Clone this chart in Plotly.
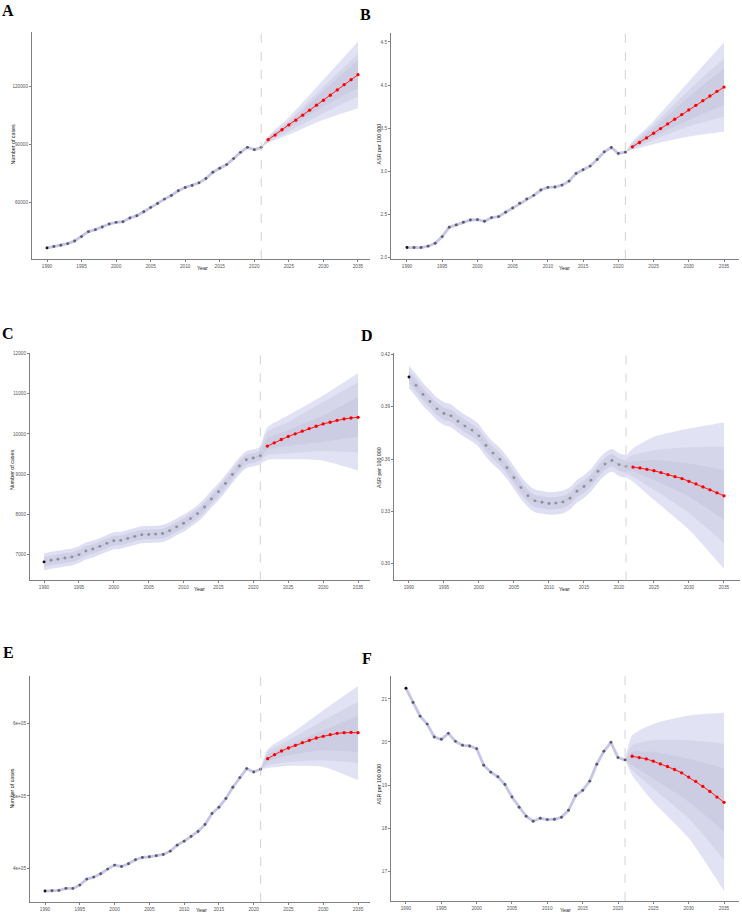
import plotly.graph_objects as go

W, H = 742, 916

years_hist = list(range(1990, 2022))
years_fc = list(range(2022, 2036))
band_years = [2021, 2022, 2025, 2030, 2035]
tick_years = [1990, 1995, 2000, 2005, 2010, 2015, 2020, 2025, 2030, 2035]

# ---------------- Panel A: number of cases ----------------
a_hist = [36650, 37340, 38030, 38880, 40250, 42480, 45050, 46080, 47450, 49000,
          49860, 50200, 52090, 53290, 55340, 57570, 59630, 61860, 63750, 66150,
          67860, 68890, 70270, 72500, 75760, 77810, 79700, 82790, 86040, 88620,
          87420, 88620]
a_fc = [92560, 94960, 97700, 100280, 102680, 105250, 107820, 110400, 112970,
        115540, 118290, 121030, 123600, 126170]
a_outer_hi = [88620, 94270, 104220, 123600, 143150]
a_outer_lo = [88620, 90850, 95130, 102850, 108850]
a_mid_hi = [88620, 93760, 102340, 120000, 136800]
a_mid_lo = [88620, 91360, 96850, 106280, 114860]
a_inner_hi = [88620, 93420, 101140, 117770, 133720]
a_inner_lo = [88620, 91700, 98570, 109710, 119140]
a_ticks = [60000, 90000, 120000]

# ---------------- Panel B: ASR ----------------
b_hist = [2.119, 2.119, 2.119, 2.135, 2.169, 2.246, 2.354, 2.381, 2.412, 2.438,
          2.442, 2.423, 2.465, 2.477, 2.527, 2.577, 2.631, 2.681, 2.723, 2.785,
          2.815, 2.819, 2.842, 2.888, 2.977, 3.019, 3.062, 3.138, 3.227, 3.277,
          3.208, 3.223]
b_fc = [3.285, 3.335, 3.388, 3.442, 3.496, 3.550, 3.604, 3.658, 3.712, 3.765,
        3.819, 3.873, 3.927, 3.977]
b_outer_hi = [3.223, 3.346, 3.585, 4.040, 4.492]
b_outer_lo = [3.223, 3.250, 3.315, 3.404, 3.462]
b_mid_hi = [3.223, 3.327, 3.538, 3.942, 4.308]
b_mid_lo = [3.223, 3.262, 3.365, 3.519, 3.635]
b_inner_hi = [3.223, 3.308, 3.500, 3.865, 4.192]
b_inner_lo = [3.223, 3.269, 3.404, 3.596, 3.769]
b_ticks = [2.0, 2.5, 3.0, 3.5, 4.0, 4.5]

# ---------------- Panel C: number of cases ----------------
c_hist = [6819, 6860, 6885, 6918, 6942, 7000, 7090, 7140, 7206, 7280,
          7345, 7354, 7403, 7452, 7493, 7502, 7510, 7526, 7592, 7691,
          7781, 7896, 8020, 8184, 8382, 8563, 8768, 8990, 9204, 9360,
          9401, 9459]
c_fc = [9697, 9780, 9862, 9936, 10002, 10068, 10133, 10191, 10248, 10290,
        10339, 10372, 10396, 10413]
c_hist_outer_halfwidth = 210
c_hist_inner_halfwidth = 120
c_outer_hi = [9670, 10158, 10462, 10956, 11507]
c_outer_lo = [9250, 9352, 9368, 9336, 9089]
c_mid_hi = [9610, 10051, 10298, 10791, 11285]
c_mid_lo = [9310, 9475, 9516, 9574, 9541]
c_inner_hi = [9560, 9887, 10092, 10462, 10915]
c_inner_lo = [9360, 9599, 9697, 9804, 9928]
c_ticks = [7000, 8000, 9000, 10000, 11000, 12000]

# ---------------- Panel D: ASR ----------------
d_hist = [0.4071, 0.4023, 0.3971, 0.3930, 0.3888, 0.3861, 0.3848, 0.3817, 0.3789, 0.3766,
          0.3733, 0.3678, 0.3634, 0.3598, 0.3550, 0.3493, 0.3436, 0.3389, 0.3360, 0.3352,
          0.3345, 0.3347, 0.3354, 0.3375, 0.3415, 0.3442, 0.3478, 0.3530, 0.3571, 0.3592,
          0.3568, 0.3558]
d_fc = [0.3554, 0.3549, 0.3541, 0.3533, 0.3522, 0.3510, 0.3499, 0.3488, 0.3472, 0.3457,
        0.3440, 0.3423, 0.3406, 0.3389]
d_hist_outer_halfwidth = 0.0065
d_hist_inner_halfwidth = 0.0035
d_outer_hi = [0.3620, 0.3661, 0.3728, 0.3775, 0.3810]
d_outer_lo = [0.3496, 0.3470, 0.3366, 0.3194, 0.2970]
d_mid_hi = [0.3600, 0.3623, 0.3651, 0.3667, 0.3670]
d_mid_lo = [0.3516, 0.3499, 0.3423, 0.3290, 0.3118]
d_inner_hi = [0.3580, 0.3585, 0.3594, 0.3575, 0.3537]
d_inner_lo = [0.3536, 0.3528, 0.3480, 0.3385, 0.3251]
d_ticks = [0.30, 0.33, 0.36, 0.39, 0.42]

# ---------------- Panel E: number of cases ----------------
e_hist = [368200, 368670, 369130, 371890, 371890, 376500, 384790, 387560, 392170, 398620,
          404150, 402300, 405990, 411520, 414750, 415670, 417050, 418890, 423500, 431800,
          437330, 443780, 450690, 460360, 475570, 484330, 496310, 511970, 525340, 537780,
          533170, 536860]
e_fc = [551600, 557130, 562200, 566350, 570040, 573720, 576950, 580170, 582480, 584780,
        586620, 587550, 588010, 587550]
e_outer_hi = [536860, 564500, 583850, 618400, 652060]
e_outer_lo = [536860, 538700, 541500, 540100, 521650]
e_mid_hi = [536860, 560800, 576950, 604600, 629940]
e_mid_lo = [536860, 542400, 547000, 549300, 545610]
e_inner_hi = [536860, 556200, 570040, 590800, 611500]
e_inner_lo = [536860, 547000, 556200, 563100, 560800]
e_ticks = [400000, 500000, 600000]
e_ticktext = ["4e+05", "5e+05", "6e+05"]

# ---------------- Panel F: ASR ----------------
f_hist = [21.246, 20.915, 20.600, 20.415, 20.115, 20.062, 20.200, 20.015, 19.923, 19.908,
          19.846, 19.462, 19.300, 19.192, 19.015, 18.723, 18.485, 18.277, 18.162, 18.231,
          18.200, 18.208, 18.254, 18.415, 18.754, 18.877, 19.092, 19.485, 19.785, 19.992,
          19.638, 19.585]
f_fc = [19.669, 19.638, 19.608, 19.554, 19.492, 19.431, 19.362, 19.285, 19.185, 19.085,
        18.969, 18.854, 18.723, 18.600]
f_outer_hi = [19.585, 20.154, 20.420, 20.615, 20.677]
f_outer_lo = [19.585, 19.230, 18.615, 17.770, 16.538]
f_mid_hi = [19.585, 19.923, 20.040, 20.040, 19.962]
f_mid_lo = [19.585, 19.346, 18.923, 18.230, 17.269]
f_inner_hi = [19.585, 19.770, 19.770, 19.615, 19.385]
f_inner_lo = [19.585, 19.460, 19.154, 18.615, 17.920]
f_ticks = [17, 18, 19, 20, 21]

# ---------------- layout geometry (pixels) ----------------
panels = [
    dict(letter="A", px=(32, 370, 30, 258), xr=(1987.83, 2036.74), yr=(30975, 148300),
         hist=a_hist, fc=a_fc, bands=(a_outer_lo, a_outer_hi, a_mid_lo, a_mid_hi, a_inner_lo, a_inner_hi),
         ticks=a_ticks, ticktext=[str(v) for v in a_ticks], ytitle="Number of cases", wide=False,
         letter_xy=(8, 9), ytitle_xy=(13, 143), xtitle_xy=(202, 267)),
    dict(letter="B", px=(391, 739, 31, 258), xr=(1987.73, 2037.13), yr=(1.988, 4.604),
         hist=b_hist, fc=b_fc, bands=(b_outer_lo, b_outer_hi, b_mid_lo, b_mid_hi, b_inner_lo, b_inner_hi),
         ticks=b_ticks, ticktext=["%.1f" % v for v in b_ticks], ytitle="ASR per 100 000", wide=False,
         letter_xy=(365, 13), ytitle_xy=(379, 143), xtitle_xy=(564, 267)),
    dict(letter="C", px=(30, 370, 353, 581), xr=(1987.99, 2036.72), yr=(6358, 12000),
         hist=c_hist, fc=c_fc, bands=(c_outer_lo, c_outer_hi, c_mid_lo, c_mid_hi, c_inner_lo, c_inner_hi),
         ticks=c_ticks, ticktext=[str(v) for v in c_ticks], ytitle="Number of cases", wide=True,
         hw=(c_hist_outer_halfwidth, c_hist_inner_halfwidth),
         letter_xy=(8, 333), ytitle_xy=(12, 470), xtitle_xy=(200, 590)),
    dict(letter="D", px=(394, 740, 353, 581), xr=(1987.86, 2037.29), yr=(0.2903, 0.4206),
         hist=d_hist, fc=d_fc, bands=(d_outer_lo, d_outer_hi, d_mid_lo, d_mid_hi, d_inner_lo, d_inner_hi),
         ticks=d_ticks, ticktext=["%.2f" % v for v in d_ticks], ytitle="ASR per 100 000", wide=True,
         hw=(d_hist_outer_halfwidth, d_hist_inner_halfwidth),
         letter_xy=(367, 335), ytitle_xy=(379, 468), xtitle_xy=(564, 590)),
    dict(letter="E", px=(30, 370, 677, 904), xr=(1987.84, 2036.72), yr=(353000, 666000),
         hist=e_hist, fc=e_fc, bands=(e_outer_lo, e_outer_hi, e_mid_lo, e_mid_hi, e_inner_lo, e_inner_hi),
         ticks=e_ticks, ticktext=e_ticktext, ytitle="Number of cases", wide=False,
         letter_xy=(8, 653), ytitle_xy=(12, 790), xtitle_xy=(201, 912)),
    dict(letter="F", px=(391, 739, 677, 903), xr=(1987.88, 2037.12), yr=(16.31, 21.53),
         hist=f_hist, fc=f_fc, bands=(f_outer_lo, f_outer_hi, f_mid_lo, f_mid_hi, f_inner_lo, f_inner_hi),
         ticks=f_ticks, ticktext=[str(v) for v in f_ticks], ytitle="ASR per 100 000", wide=False,
         letter_xy=(367, 659), ytitle_xy=(379, 786), xtitle_xy=(565, 912)),
]

BAND_FILLS = ["rgba(140,140,215,0.25)", "rgba(150,150,180,0.15)", "rgba(150,150,180,0.15)"]
HIST_BAND_FILLS = ["rgba(140,140,215,0.28)", "rgba(150,150,180,0.2)"]
AXIS_COL = "#808080"

fig = go.Figure()
layout = dict(width=W, height=H, margin=dict(l=0, r=0, t=0, b=0),
              paper_bgcolor="white", plot_bgcolor="white", showlegend=False,
              shapes=[], annotations=[])

for i, p in enumerate(panels, start=1):
    xa = "x" if i == 1 else "x%d" % i
    ya = "y" if i == 1 else "y%d" % i
    x0, x1, yt, yb = p["px"]
    xkey = "xaxis" if i == 1 else "xaxis%d" % i
    ykey = "yaxis" if i == 1 else "yaxis%d" % i
    common = dict(showline=True, linecolor=AXIS_COL, linewidth=1, ticks="outside", ticklen=2,
                  tickwidth=0.6, tickcolor=AXIS_COL, tickfont=dict(size=4.7, color="#555555",
                  family="Liberation Sans, Arial"), showgrid=False, zeroline=False)
    layout[xkey] = dict(common, domain=[x0 / W, x1 / W], range=list(p["xr"]), anchor=ya,
                        tickvals=tick_years, ticktext=[str(t) for t in tick_years])
    layout[ykey] = dict(common, domain=[1 - yb / H, 1 - yt / H], range=list(p["yr"]), anchor=xa,
                        tickvals=p["ticks"], ticktext=p["ticktext"])

    ol, oh, ml, mh, il, ih = p["bands"]
    for (lo, hi), fc_ in zip(((ol, oh), (ml, mh), (il, ih)), BAND_FILLS):
        fig.add_trace(go.Scatter(x=band_years, y=lo, mode="lines",
                                 line=dict(width=0, shape="spline", smoothing=0.6),
                                 xaxis=xa, yaxis=ya, hoverinfo="skip"))
        fig.add_trace(go.Scatter(x=band_years, y=hi, mode="lines",
                                 line=dict(width=0, shape="spline", smoothing=0.6),
                                 fill="tonexty", fillcolor=fc_, xaxis=xa, yaxis=ya, hoverinfo="skip"))

    if p["wide"]:
        for hw, fc_ in zip(p["hw"], HIST_BAND_FILLS):
            lo = [v - hw for v in p["hist"]]
            hi = [v + hw for v in p["hist"]]
            fig.add_trace(go.Scatter(x=years_hist, y=lo, mode="lines", line=dict(width=0, shape="spline"),
                                     xaxis=xa, yaxis=ya, hoverinfo="skip"))
            fig.add_trace(go.Scatter(x=years_hist, y=hi, mode="lines", line=dict(width=0, shape="spline"),
                                     fill="tonexty", fillcolor=fc_, xaxis=xa, yaxis=ya,
                                     hoverinfo="skip"))
        fig.add_trace(go.Scatter(x=years_hist, y=p["hist"], mode="lines",
                                 line=dict(color="rgba(160,160,185,0.6)", width=0.6, dash="dot"),
                                 xaxis=xa, yaxis=ya, hoverinfo="skip"))
        mcol = ["#111111"] + ["#909098"] * (len(years_hist) - 1)
    else:
        fig.add_trace(go.Scatter(x=years_hist, y=p["hist"], mode="lines",
                                 line=dict(color="rgba(150,150,215,0.55)", width=2.8),
                                 xaxis=xa, yaxis=ya, hoverinfo="skip"))
        mcol = ["#111111"] + ["#5a5a6a"] * (len(years_hist) - 1)
    fig.add_trace(go.Scatter(x=years_hist, y=p["hist"], mode="markers",
                             marker=dict(color=mcol, size=2.9, line=dict(width=0)),
                             xaxis=xa, yaxis=ya))
    fig.add_trace(go.Scatter(x=years_fc, y=p["fc"], mode="lines+markers",
                             line=dict(color="#ff1a1a", width=1.0),
                             marker=dict(color="#ff0000", size=3.3),
                             xaxis=xa, yaxis=ya))

    layout["shapes"].append(dict(type="line", xref=xa, yref="%s domain" % ya, x0=2021, x1=2021, y0=0, y1=1,
                                 line=dict(color="#c8c8c8", width=0.8, dash="dash"), layer="above"))

    lx, ly = p["letter_xy"]
    layout["annotations"].append(dict(text="<b>%s</b>" % p["letter"], xref="paper", yref="paper",
                                      x=lx / W, y=1 - ly / H, showarrow=False, xanchor="center",
                                      yanchor="middle",
                                      font=dict(size=16, family="Liberation Serif, Times New Roman",
                                                color="black")))
    tx, ty = p["ytitle_xy"]
    layout["annotations"].append(dict(text=p["ytitle"], xref="paper", yref="paper", x=tx / W, y=1 - ty / H,
                                      showarrow=False, textangle=-90, xanchor="center", yanchor="middle",
                                      font=dict(size=5.3, family="Liberation Sans, Arial", color="#222222")))
    xx, xy = p["xtitle_xy"]
    layout["annotations"].append(dict(text="Year", xref="paper", yref="paper", x=xx / W, y=1 - xy / H,
                                      showarrow=False, xanchor="center", yanchor="middle",
                                      font=dict(size=5.3, family="Liberation Sans, Arial", color="#222222")))

fig.update_layout(**layout)
fig.write_html("out.html")
